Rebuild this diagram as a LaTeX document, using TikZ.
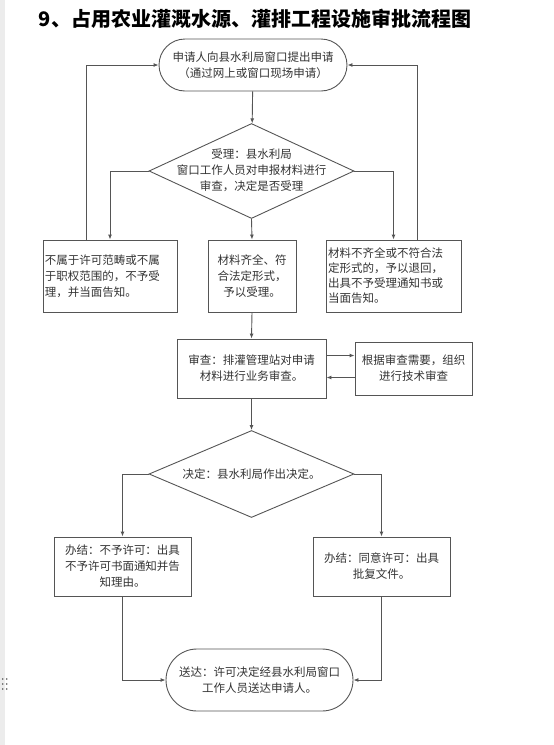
\documentclass[tikz,border=0pt]{standalone}
\usepackage{fontspec}
\setmainfont{Noto Sans CJK SC}
\usetikzlibrary{positioning,shapes.geometric,shapes.misc,arrows.meta}
\definecolor{Edge}{HTML}{555555}
\definecolor{Ink}{HTML}{333333}

\begin{document}
\begin{tikzpicture}[x=1pt,y=-1pt,
  every node/.style={font=\fontsize{11.5}{16}\selectfont,text=Ink},
  box/.style={draw=Edge,line width=0.9pt,rectangle,inner sep=2pt},
  term/.style={draw=Edge,line width=0.9pt,rounded rectangle,inner sep=0pt},
  decision/.style={draw=Edge,line width=0.9pt,diamond,inner sep=0pt},
  flow/.style={draw=Edge,line width=0.9pt,-{Latex[length=5pt,width=4pt]}}]
\useasboundingbox (0,0) rectangle (554,745);
\fill[gray!15] (0,0) rectangle (5,745);
\foreach \yy in {679,684,689}
  \fill[Edge] (2.7,\yy) circle (0.9) (6.7,\yy) circle (0.9);
\node[font=\fontsize{20}{24}\selectfont\bfseries,text=black] (title) at (255,19)
 {9、占用农业灌溉水源、灌排工程设施审批流程图};
% application and acceptance
\node[term,minimum width=188,minimum height=52,align=center] (start) at (253,65)
 {申请人向县水利局窗口提出申请\\（通过网上或窗口现场申请）};
\node[decision,minimum width=205,minimum height=95] (accept) at (251.5,171) {};
\node[align=center] (acceptt) at (251.5,170)
 {受理：县水利局\\窗口工作人员对申报材料进行\\审查，决定是否受理};
\node[box,minimum width=134,minimum height=72,text width=130,align=left] (refuse) at (110,276)
 {不属于许可范畴或不属\\于职权范围的，不予受\\理，并当面告知。};
\node[box,minimum width=88,minimum height=72,align=center] (ok) at (252,276)
 {材料齐全、符\\合法定形式，\\予以受理。};
\node[box,minimum width=135,minimum height=72,text width=131,align=left,
 font=\fontsize{11.5}{15}\selectfont] (return) at (393.5,276)
 {材料不齐全或不符合法\\定形式的，予以退回，\\出具不予受理通知书或\\当面告知。};
% review
\node[box,minimum width=149,minimum height=59,align=center] (review) at (251.5,368.5)
 {审查：排灌管理站对申请\\材料进行业务审查。};
\node[box,minimum width=117,minimum height=53,align=center] (tech) at (413.5,368.5)
 {根据审查需要，组织\\进行技术审查};
% decision and delivery
\node[decision,minimum width=205,minimum height=87] (decide) at (251.5,474) {};
\node (decidet) at (251.5,474) {决定：县水利局作出决定。};
\node[box,minimum width=137,minimum height=59,align=center] (deny) at (122.5,566.5)
 {办结：不予许可：出具\\不予许可书面通知并告\\知理由。};
\node[box,minimum width=137,minimum height=59,align=center] (grant) at (381.5,566.5)
 {办结：同意许可：出具\\批复文件。};
\node[term,minimum width=187,minimum height=62,align=center] (deliver) at (259.5,680)
 {送达：许可决定经县水利局窗口\\工作人员送达申请人。};
\draw[flow] (start) -- (accept);
\draw[flow] (accept.west) -| (refuse.north);
\draw[flow] (accept.south) -- (ok.north);
\draw[flow] (accept.east) -| (return.north);
\draw[flow] ([xshift=-24pt]refuse.north) |- (start.west);
\draw[flow] ([xshift=24pt]return.north) |- (start.east);
\draw[flow] (ok.south) -- (review.north);
\draw[flow] ([yshift=13pt]review.east) -- ([yshift=13pt]review.east -| tech.west);
\draw[flow] ([yshift=-9pt]tech.west) -- ([yshift=-9pt]tech.west -| review.east);
\draw[flow] (review.south) -- (decide.north);
\draw[flow] (decide.west) -| (deny.north);
\draw[flow] (decide.east) -| (grant.north);
\draw[flow] (deny.south) |- (deliver.west);
\draw[flow] (grant.south) |- (deliver.east);
\end{tikzpicture}
\end{document}
